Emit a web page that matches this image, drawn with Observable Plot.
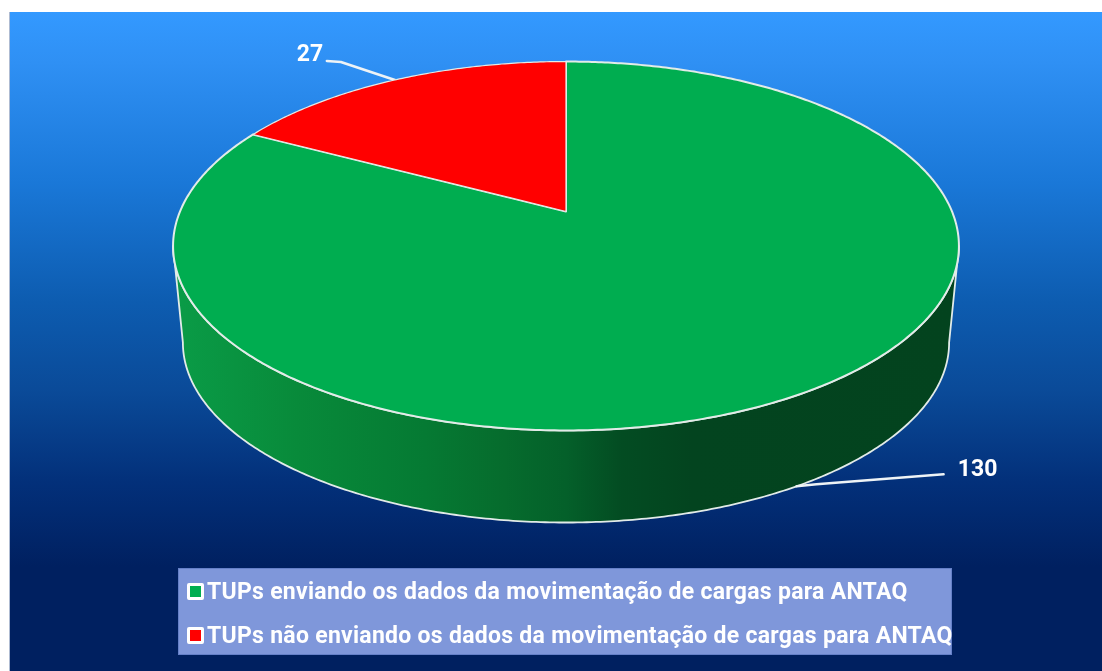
<!DOCTYPE html>
<html lang="pt">
<head>
<meta charset="utf-8">
<script src="https://cdn.jsdelivr.net/npm/d3@7"></script>
<script src="https://cdn.jsdelivr.net/npm/@observablehq/plot@0.6"></script>
<style>
  html, body { margin: 0; padding: 0; background: #fff; }
  #panel {
    position: absolute; left: 9px; top: 12px; width: 1093px; height: 659px;
    box-sizing: border-box; border-left: 1px solid #aebbd2; overflow: hidden;
    background: linear-gradient(180deg, #3399ff 0, #2f90f4 50px, #1a78d8 170px, #0d5cb0 290px, #0a4a98 380px, #03307a 470px, #002060 555px, #002060 100%);
  }
  #chart svg { display: block; filter: blur(0.5px); }
  #legend {
    margin: 8px 0 0 168px; width: 774px; height: 87px; box-sizing: border-box;
    background: #7f97da; border: 1px solid #6580c8; filter: blur(0.5px);
    font: 700 23px Roboto, sans-serif; color: #fff; white-space: nowrap;
  }
  .row { display: flex; align-items: center; height: 44px; padding-left: 8px; }
  .swatch { width: 11px; height: 11px; border: 3px solid #fff; border-radius: 2px; margin-right: 3px; flex: none; }
  .row span:last-child { letter-spacing: 0.28px; }
</style>
</head>
<body>
<div id="panel">
  <div id="chart"></div>
  <div id="legend"></div>
</div>
<script>
// Data
const categories = [
  "TUPs enviando os dados da movimentação de cargas para ANTAQ",
  "TUPs não enviando os dados da movimentação de cargas para ANTAQ"
];
const values = [130, 27];
const sliceColors = ["#00ad50", "#ff0000"];
const sideStops = [[0, "#0a9c47"], [0.16, "#088a3a"], [0.32, "#057a33"], [0.42, "#066c2d"], [0.50, "#04602a"], [0.57, "#034c22"], [0.66, "#03441f"], [1, "#03431e"]];
const rimColor = "#e2ebe8";

// Projection of the tilted disc: unit circle -> perspective plane
const tilt = 0.187;            // perspective strength
const baseScale = 0.975;       // bottom rim is farther away
const baseDrop = -0.548;       // bottom rim drop, in chart units
const rim = (a, level = 0) => {
  const u = Math.sin(a), v = Math.cos(a), w = 1 + tilt * v;
  const s = level ? baseScale : 1;
  return {x: s * u / w, y: s * v / w + (level ? baseDrop : 0)};
};
const arc = (a0, a1, level = 0) => {
  const n = Math.max(2, Math.ceil((a1 - a0) / 0.01));
  return d3.range(n + 1).map((i) => rim(a0 + (a1 - a0) * i / n, level));
};
const slices = d3.pie().sort(null)(values);
const slicePath = (s) => [{x: 0, y: 0}, ...arc(s.startAngle, s.endAngle), {x: 0, y: 0}];
// visible wall between the two silhouette tangents
const wallA = Math.PI - Math.acos(tilt), wallB = Math.PI + Math.acos(tilt);
const wall = [...arc(wallA, wallB, 0), ...arc(wallA, wallB, 1).reverse()];
wall.push(wall[0]);

// Leader lines start from the middle of each slice; offsets in chart units
const mid = (s) => (s.startAngle + s.endAngle) / 2;
const unitX = 1 / 386, unitY = 1 / 178;
const shift = (p, dx, dy) => ({x: p.x + dx * unitX, y: p.y - dy * unitY});
const anchorGreen = rim(mid(slices[0]), 1);
const anchorRed = rim(mid(slices[1]), 0);
const leaderGreen = [anchorGreen, shift(anchorGreen, 20, -2), shift(anchorGreen, 147, -12)];
const leaderRed = [anchorRed, shift(anchorRed, -54, -18), shift(anchorRed, -68, -19)];
const labels = [
  {...shift(anchorGreen, 181, -18), text: String(values[0])},
  {...shift(anchorRed, -85, -26), text: String(values[1])}
];

const defs = () => {
  const d = d3.create("svg:defs");
  const g = d.append("linearGradient").attr("id", "sideGrad").attr("x1", 0).attr("x2", 1).attr("y1", 0).attr("y2", 0);
  g.selectAll("stop").data(sideStops).join("stop").attr("offset", (s) => s[0]).attr("stop-color", (s) => s[1]);
  return d.node();
};

const chart = Plot.plot({
  width: 1092, height: 548, margin: 0,
  style: {background: "transparent", overflow: "visible"},
  x: {domain: [-1, 1], range: [169.5, 941.5], axis: null},
  y: {domain: [-1, 1], range: [377, 21], axis: null},
  marks: [
    defs,
    Plot.line(wall, {x: "x", y: "y", fill: "url(#sideGrad)", stroke: rimColor, strokeWidth: 1.8}),
    Plot.line(leaderGreen, {x: "x", y: "y", stroke: "#eef3f6", strokeWidth: 2.6}),
    Plot.line(leaderRed, {x: "x", y: "y", stroke: "#eef3f6", strokeWidth: 2.6}),
    ...slices.map((s, i) => Plot.line(slicePath(s), {x: "x", y: "y", fill: sliceColors[i], stroke: rimColor, strokeWidth: i ? 1.2 : 2})),
    Plot.text(labels, {x: "x", y: "y", text: "text", fill: "#fff", fontSize: 23, fontWeight: 700, fontFamily: "Roboto, sans-serif"})
  ]
});
document.getElementById("chart").append(chart);

const legend = d3.select("#legend");
categories.forEach((c, i) => {
  const row = legend.append("div").attr("class", "row");
  row.append("span").attr("class", "swatch").style("background", sliceColors[i]);
  row.append("span").text(c);
});
</script>
</body>
</html>
